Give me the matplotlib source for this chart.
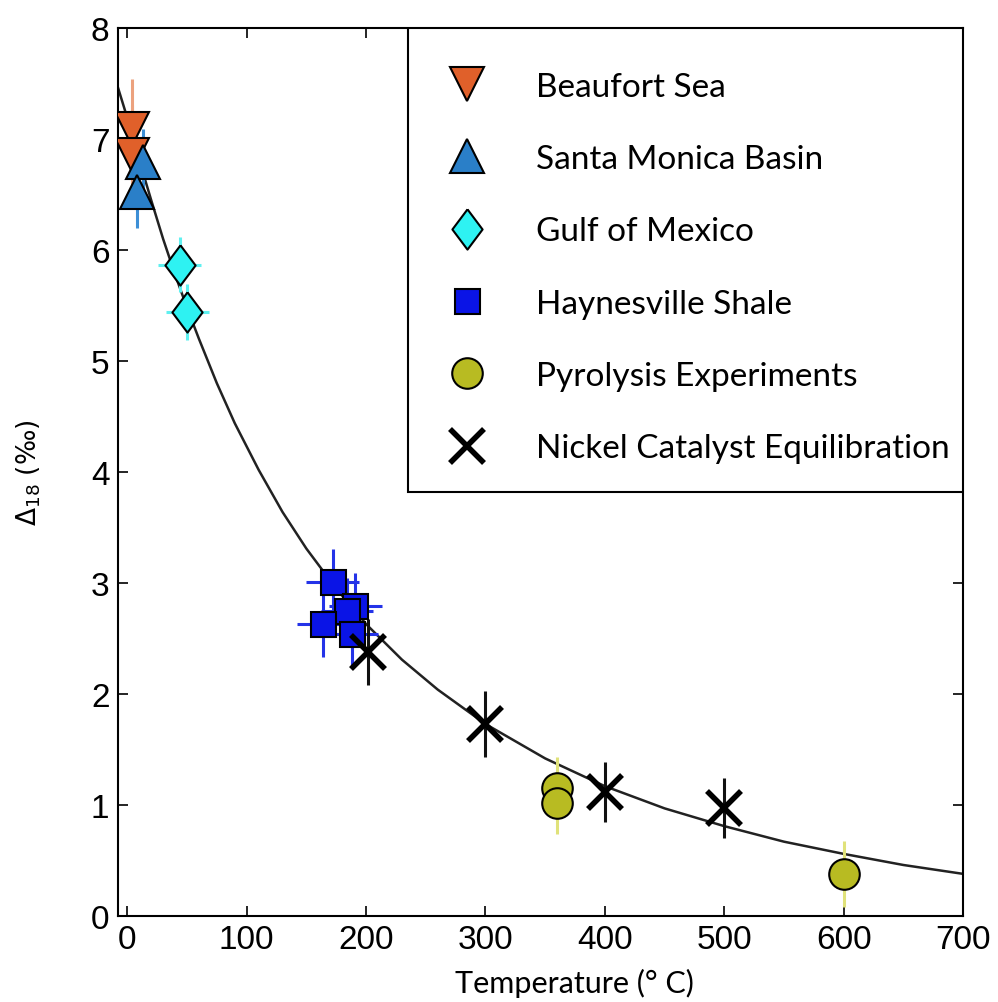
import numpy as np
import matplotlib
matplotlib.use("Agg")
import matplotlib.pyplot as plt
from matplotlib.patches import Rectangle

# calibration curve
curve_t = [-8, 0, 10, 20, 30, 40, 50, 60, 75, 90, 110, 130, 150, 175, 200,
           230, 260, 300, 350, 400, 450, 500, 550, 600, 650, 700]
curve_d = [7.47, 7.19, 6.81, 6.45, 6.10, 5.78, 5.48, 5.20, 4.80, 4.44, 4.02,
           3.64, 3.31, 2.95, 2.63, 2.31, 2.04, 1.73, 1.42, 1.17, 0.97, 0.81,
           0.67, 0.56, 0.46, 0.38]

beaufort_t = [4, 4]
beaufort_d = [7.09, 6.86]
beaufort_err = [0.45, 0.45]

santa_t = [13, 8]
santa_d = [6.79, 6.52]
santa_err = [0.3, 0.32]

gulf_t = [44, 50]
gulf_d = [5.87, 5.44]
gulf_xerr = [18, 18]
gulf_err = [0.25, 0.25]

hayn_t = [172, 191, 184, 164, 188]
hayn_d = [3.01, 2.79, 2.75, 2.63, 2.54]
hayn_xerr = [22, 22, 22, 22, 22]
hayn_err = [0.3, 0.3, 0.3, 0.3, 0.3]

pyro_t = [360, 360, 600]
pyro_d = [1.15, 1.02, 0.38]
pyro_err = [0.28, 0.28, 0.3]

nickel_t = [202, 300, 400, 500]
nickel_d = [2.38, 1.73, 1.12, 0.97]
nickel_err = [0.3, 0.3, 0.27, 0.27]

labels = ["Beaufort Sea", "Santa Monica Basin", "Gulf of Mexico",
          "Haynesville Shale", "Pyrolysis Experiments",
          "Nickel Catalyst Equilibration"]

diamond = [(0, 1), (0.75, 0), (0, -1), (-0.75, 0), (0, 1)]

fig = plt.figure(figsize=(9.98, 10.03), dpi=100)
ax = fig.add_axes([0.118, 0.0857, 0.847, 0.8853])

ax.plot(curve_t, curve_d, color="#222222", lw=1.8, zorder=2)

def series(t, d, yerr, ecol, marker, fc, ms, label, xerr=None, mew=1.5, mec="black"):
    ax.errorbar(t, d, yerr=yerr, xerr=xerr, fmt="none", ecolor=ecol,
                elinewidth=2.2, capsize=0, zorder=3)
    return ax.plot(t, d, linestyle="none", marker=marker, markerfacecolor=fc,
                   markeredgecolor=mec, markeredgewidth=mew, markersize=ms,
                   label=label, zorder=4)[0]

handles = []
handles.append(series(beaufort_t, beaufort_d, beaufort_err, "#eca27e", "v",
                      "#e0602a", 25, labels[0]))
handles.append(series(santa_t, santa_d, santa_err, "#3d8fd6", "^",
                      "#2a7fc8", 25, labels[1]))
handles.append(series(gulf_t, gulf_d, gulf_err, "#5ff0f0", diamond,
                      "#2ef2f2", 29, labels[2], xerr=gulf_xerr))
handles.append(series(hayn_t, hayn_d, hayn_err, "#2433e8", "s",
                      "#0a14e6", 18, labels[3], xerr=hayn_xerr))
handles.append(series(pyro_t, pyro_d, pyro_err, "#e0e27a", "o",
                      "#b8bb22", 22, labels[4]))
handles.append(series(nickel_t, nickel_d, nickel_err, "#111111", "x",
                      "black", 24, labels[5], mew=4.0, mec="black"))

ax.set_xlim(-8, 700)
ax.set_ylim(0, 8)
ax.set_xticks(range(0, 701, 100))
ax.set_yticks(range(0, 9))
ax.tick_params(direction="in", top=True, right=True, length=7, width=1.2,
               labelsize=24, pad=6)
for lab in ax.get_xticklabels() + ax.get_yticklabels():
    lab.set_family(["Liberation Sans", "DejaVu Sans"])
for s in ax.spines.values():
    s.set_linewidth(1.5)

ax.set_xlabel("Temperature (° C)", fontsize=22, family="Lato")
ax.xaxis.set_label_coords(0.54, -0.058)
ax.set_ylabel("$\\Delta_{18}$ (‰)", fontsize=19, family="DejaVu Sans")
ax.yaxis.set_label_coords(-0.089, 0.5)

# legend box, drawn by hand so the padding matches
ax.add_patch(Rectangle((0.343, 0.4775), 0.657, 0.5225, transform=ax.transAxes,
                       facecolor="white", edgecolor="black", lw=1.5, zorder=5))
leg = ax.legend(handles=handles, loc="upper left", bbox_to_anchor=(0.3736, 0.951),
                borderaxespad=0, frameon=False, labelspacing=1.27,
                handletextpad=1.07, borderpad=0, handlelength=2.0,
                prop={"family": "Lato", "size": 24})
leg.set_zorder(6)

fig.savefig("out.png", dpi=100)
